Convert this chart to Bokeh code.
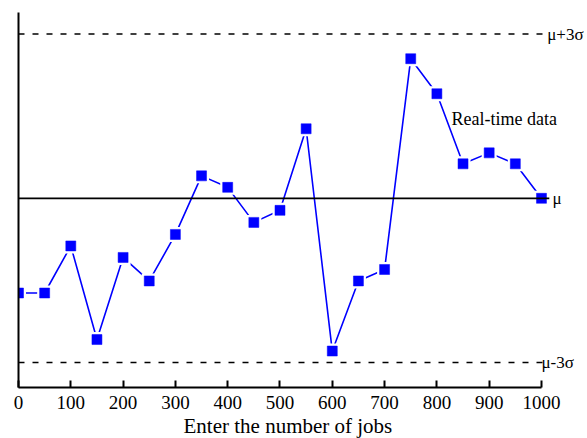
from bokeh.plotting import figure
from bokeh.models import Range1d, FixedTicker, Label, LinearAxis, Title
from bokeh.embed import file_html
from bokeh.resources import INLINE

# ---- data (y expressed in sigma units around mu) ----
jobs = [0, 50, 100, 150, 200, 250, 300, 350, 400, 450, 500,
        550, 600, 650, 700, 750, 800, 850, 900, 950, 1000]
realtime = [-1.73, -1.73, -0.87, -2.58, -1.08, -1.51, -0.66, 0.41, 0.20, -0.44, -0.22,
            1.27, -2.79, -1.51, -1.30, 2.55, 1.91, 0.63, 0.83, 0.63, 0.0]
mu = 0.0
sigma = 1.0
x_ticks = [0, 100, 200, 300, 400, 500, 600, 700, 800, 900, 1000]
x_label = "Enter the number of jobs"
series_label = "Real-time data"
limit_labels = ["\u03bc+3\u03c3", "\u03bc", "\u03bc-3\u03c3"]

FONT = "'Liberation Serif', 'Times New Roman', serif"

p = figure(width=587, height=438, output_backend="svg", toolbar_location=None,
           x_range=Range1d(0, 1088), y_range=Range1d(-3.456, 3.394),
           x_axis_location=None, y_axis_location=None,
           min_border_left=18, min_border_right=0, min_border_top=12, min_border_bottom=51)
p.outline_line_color = None
p.xgrid.visible = False
p.ygrid.visible = False
p.background_fill_color = "white"
p.border_fill_color = "white"

xaxis = LinearAxis(ticker=FixedTicker(ticks=x_ticks), bounds=(0, 1000))
xaxis.axis_line_width = 2
xaxis.axis_line_color = "black"
xaxis.major_tick_in = 7
xaxis.major_tick_out = 0
xaxis.major_tick_line_width = 2
xaxis.minor_tick_line_color = None
xaxis.major_label_text_font = FONT
xaxis.major_label_text_font_size = "19px"
xaxis.major_label_text_color = "black"
xaxis.major_label_standoff = 8
p.add_layout(xaxis, "below")

p.add_layout(Title(text=x_label, align="left", offset=165, text_font=FONT,
                   text_font_size="21px", text_font_style="normal", text_color="black",
                   standoff=0), "below")

yaxis = LinearAxis(ticker=FixedTicker(ticks=[]))
yaxis.axis_line_width = 2
yaxis.axis_line_color = "black"
yaxis.major_tick_in = 0
yaxis.major_tick_out = 0
yaxis.minor_tick_line_color = None
yaxis.major_label_text_font_size = "0px"
yaxis.major_label_standoff = 0
p.add_layout(yaxis, "left")

# limit lines
upper = mu + 3 * sigma
lower = mu - 3 * sigma
p.line([0, 1004], [upper, upper], line_color="black", line_width=1.5, line_dash="6 8")
p.line([0, 1004], [lower, lower], line_color="black", line_width=1.5, line_dash="6 8")

# data
p.line(jobs, realtime, line_color="#0000ff", line_width=1.6)
p.scatter(jobs, realtime, marker="square", size=15, fill_color="white", line_color=None)
p.scatter(jobs, realtime, marker="square", size=10, fill_color="#0000ff", line_color="#0000ff", line_width=0.5)

p.line([0, 1015], [mu, mu], line_color="black", line_width=1.8)

# labels
p.add_layout(Label(x=1011, y=upper, text=limit_labels[0], text_font=FONT, text_font_size="17px",
                   text_baseline="middle", text_align="left", text_color="black"))
p.add_layout(Label(x=1021, y=mu, text=limit_labels[1], text_font=FONT, text_font_size="17px",
                   text_baseline="middle", text_align="left", text_color="black"))
p.add_layout(Label(x=1000, y=lower, text=limit_labels[2], text_font=FONT, text_font_size="17px",
                   text_baseline="middle", text_align="left", text_color="black"))
p.add_layout(Label(x=828, y=1.44, text=series_label, text_font=FONT, text_font_size="18px",
                   text_baseline="alphabetic", text_align="left", text_color="black"))

open("out.html", "w").write(file_html(p, INLINE))
